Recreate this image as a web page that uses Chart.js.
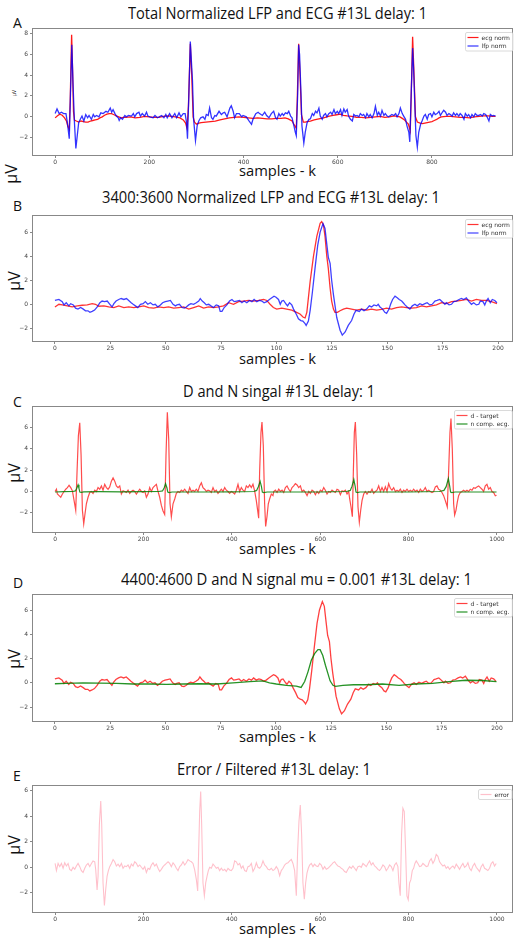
<!DOCTYPE html>
<html>
<head>
<meta charset="utf-8">
<title>Normalized LFP and ECG #13L</title>
<script src="https://cdn.jsdelivr.net/npm/chart.js"></script>
<style>
    body { margin: 0; background: #fff; width: 516px; height: 942px; position: relative; overflow: hidden; font-family: 'Open Sans', sans-serif; color: #111; }
    canvas { position: absolute; left: 0; }
    .txt { position: absolute; white-space: nowrap; line-height: 1; transform-origin: 0 0; }
    .title { font-size: 16px; }
    .xlab { font-size: 14px; }
    .letter { font-size: 14px; left: 13px; }
    .rot { position: absolute; white-space: nowrap; line-height: 1; font-size: 16px; transform: translate(-50%, -50%) rotate(-90deg); }
</style>
</head>
<body>

<div class="txt letter" style="top:16px">A</div>
<div class="txt title fit" data-w="299" style="left:128px; top:5px">Total Normalized LFP and ECG #13L delay: 1</div>
<div class="rot" style="left:14px; top:93px; font-size:5px">µV</div>
<div class="txt xlab fit" data-w="77" style="left:239px; top:163.5px">samples - k</div>
<div class="rot" style="left:11px; top:174px">µV</div>

<div class="txt letter" style="top:199px">B</div>
<div class="txt title fit" data-w="338" style="left:102px; top:188.5px">3400:3600 Normalized LFP and ECG #13L delay: 1</div>
<div class="rot" style="left:14px; top:281px">µV</div>
<div class="txt xlab fit" data-w="77" style="left:239px; top:352px">samples - k</div>

<div class="txt letter" style="top:395px">C</div>
<div class="txt title fit" data-w="192" style="left:183px; top:382.5px">D and N singal #13L delay: 1</div>
<div class="rot" style="left:14px; top:473px">µV</div>
<div class="txt xlab fit" data-w="77" style="left:239px; top:542px">samples - k</div>

<div class="txt letter" style="top:576px">D</div>
<div class="txt title fit" data-w="351" style="left:121px; top:571px">4400:4600 D and N signal mu = 0.001 #13L delay: 1</div>
<div class="rot" style="left:14px; top:659px">µV</div>
<div class="txt xlab fit" data-w="77" style="left:239px; top:730px">samples - k</div>

<div class="txt letter" style="top:769px">E</div>
<div class="txt title fit" data-w="194" style="left:177px; top:761px">Error / Filtered #13L delay: 1</div>
<div class="rot" style="left:14px; top:845px">µV</div>
<div class="txt xlab fit" data-w="77" style="left:239px; top:922px">samples - k</div>

<canvas id="chartA"></canvas>
<canvas id="chartB"></canvas>
<canvas id="chartC"></canvas>
<canvas id="chartD"></canvas>
<canvas id="chartE"></canvas>

<script>

// A - whole record
const ecgFull = [[0,-0.1],[5,0.1],[10,0.25],[15,0.15],[20,-0.1],[24,-0.4],[27,-0.9],[30,-1.2],[32,1.5],[35,7.85],[37,4.5],[39,0.5],[41,-0.3],[45,-0.4],[50,-0.5],[55,-0.4],[60,-0.45],[65,-0.5],[70,-0.5],[75,-0.4],[80,-0.35],[85,-0.3],[90,-0.25],[95,-0.1],[100,0.0],[105,0.15],[110,0.25],[115,0.3],[120,0.3],[125,0.2],[130,0.1],[135,0.0],[140,-0.1],[145,-0.05],[150,-0.05],[160,0.0],[170,-0.1],[180,-0.05],[190,0.05],[200,0.0],[210,-0.05],[220,-0.05],[230,0.05],[240,0.1],[248,0.05],[255,0.0],[265,-0.1],[272,-0.3],[277,-0.6],[280,-1.1],[283,1.0],[287,7.0],[290,4.0],[293,0.0],[296,-0.5],[300,-0.7],[305,-0.6],[310,-0.55],[320,-0.5],[330,-0.45],[340,-0.4],[350,-0.3],[360,-0.2],[370,-0.1],[380,-0.05],[390,0.0],[400,-0.05],[410,-0.1],[420,-0.15],[430,-0.1],[440,-0.15],[450,-0.2],[460,-0.2],[470,-0.15],[480,-0.15],[488,-0.1],[495,-0.2],[503,-0.4],[508,-0.8],[512,-1.1],[514,1.5],[517,6.98],[520,4.0],[523,0.2],[527,-0.5],[531,-0.5],[535,-0.45],[542,-0.4],[550,-0.3],[560,-0.2],[570,-0.1],[580,0.05],[590,0.15],[598,0.2],[605,0.25],[612,0.15],[620,0.1],[630,0.05],[640,-0.05],[650,-0.05],[660,-0.1],[670,-0.05],[680,0.0],[690,0.05],[700,-0.05],[710,0.0],[720,0.1],[726,0.05],[732,0.0],[737,-0.15],[742,-0.3],[746,-0.5],[750,-0.7],[754,-1.35],[756,2.0],[759,7.66],[762,4.0],[765,0.0],[769,-0.5],[775,-0.6],[780,-0.65],[785,-0.6],[790,-0.55],[795,-0.5],[800,-0.45],[805,-0.35],[810,-0.25],[815,-0.1],[820,0.0],[830,0.05],[840,0.05],[850,0.0],[860,-0.05],[870,-0.05],[880,-0.1],[890,0.0],[900,0.05],[910,0.1],[920,0.1],[928,0.05],[935,0.05]];
const lfpFull = [[0,0.31],[4,0.75],[8.5,0.31],[13.5,0.44],[18,0.31],[23,0.31],[26,-0.55],[30,-2.1],[32.6,2.24],[35.4,6.89],[38,3.17],[41,-0.55],[44,-3.03],[47,-1.79],[50,-0.55],[54,-0.18],[57,0.07],[61,-0.4],[65,0.22],[69,-0.09],[72,0.13],[77,-0.24],[81,0.22],[84,0],[88,0.13],[93,0],[97,0.38],[102,0.31],[108,0.53],[112,0.44],[117,0.84],[120,0.44],[123,0.69],[127,0.31],[130,0.07],[134,-0.09],[136,-0.34],[139,-0.09],[143,-0.24],[148,0.13],[151,0],[156,0.13],[162,0.07],[166,0.31],[169,0],[173,0.31],[178,0.44],[181,0.07],[185,0.31],[190,0.07],[194,0.44],[197,0.07],[201,0],[208,-0.09],[212,0.13],[217,-0.09],[221,0],[226,0.13],[231,-0.09],[235,0.22],[238,-0.09],[243,0.31],[248,-0.09],[254,0.31],[258,-0.09],[263,0.38],[267,0],[272,0.31],[276,0.31],[279,-0.55],[281,-2.1],[284,2.24],[287,7.2],[291.6,3.48],[294,-0.24],[298,-2.26],[301.5,-0.86],[305,-0.4],[309,-0.09],[314,0],[318,-0.24],[321,0.22],[325,0.13],[328,0.84],[332,-0.09],[335,-0.24],[339,0.13],[342,0.07],[348,0.53],[353,0.22],[357,0.38],[360,0.44],[365,0],[371,0.84],[374,1.06],[378,0.53],[381,-0.09],[385,0.31],[391,0.31],[396,0],[399,0.13],[406,0],[412,-0.4],[417,-0.71],[420,-0.24],[426,0.31],[431,0.44],[434,0.31],[440,0.13],[445,0.44],[449,0.13],[454,-0.09],[459,0.31],[464,0.53],[468,-0.09],[471,-0.24],[475,0.31],[478,0.07],[482,0.31],[485,0.13],[489,0.38],[493,0.31],[496,0.53],[500,0.07],[503,-0.09],[507,-0.86],[510,-1.48],[512,-1.79],[515,2.24],[517,6.89],[519,5.96],[522,2.24],[524,-0.86],[528,-2.5],[531,-1.48],[535,-0.55],[539,-0.24],[542,-0.18],[546,0.31],[549,0.13],[553,0.53],[556,0.38],[560,0.84],[563,0.07],[567,-0.24],[570,0.13],[574,0.31],[577,0],[581,0.31],[585,0.44],[588,0.22],[592,0.69],[595,0.31],[599,0.53],[602,0.31],[606,0.69],[609,0.13],[613,0.75],[616,0.44],[620,0.69],[623,0.07],[627,-0.24],[631,-0.4],[634,0.22],[638,0.07],[641,0.13],[645,0],[648,0.31],[652,0.13],[655,0.22],[659,-0.09],[662,0.31],[666,0],[669,0.22],[673,-0.09],[677,0.31],[680,1.0],[684,0.13],[687,0.44],[691,0.07],[694,0.62],[698,0.13],[701,0.31],[705,0.07],[708,0],[712,0.13],[715,0.22],[719,0.13],[723,0.31],[726,0],[730,0.31],[733,0.84],[737,0.31],[740,0.07],[744,-0.24],[747,-0.86],[751,-1.48],[753,-2.4],[756,2.24],[759,6.57],[761,4.7],[764,0.69],[766,-1.79],[769,-2.9],[772,-1.48],[776,-0.71],[779,-0.4],[783,0.07],[786,0.22],[790,-0.24],[793,0.22],[797,0.31],[800,0],[804,0.44],[807,0.22],[811,0.31],[815,0.53],[818,0.13],[822,0.44],[825,0.62],[829,0.44],[832,0.13],[836,0.31],[839,0.22],[843,0.07],[846,0.38],[850,0.13],[853,0.31],[857,0.07],[860,0.31],[864,0.13],[868,-0.24],[871,0.31],[875,0.07],[878,0.22],[882,-0.09],[885,0.22],[889,0],[892,0.31],[896,0.13],[899,0.13],[903,0.22],[907,0.07],[910,0.31],[914,0.22],[917,0],[921,-0.4],[924,0.22],[928,0.07],[931,0.13],[935,0.07]];

// B - 200 sample window (the same lfp trace is the d - target in D)
const ecgZoom = [[0,-0.22],[1.8,0],[3.3,-0.05],[5.6,-0.13],[7.8,-0.22],[10.1,-0.13],[12.3,-0.08],[14.6,-0.05],[16.8,0.05],[18.3,0],[19.8,-0.16],[22.1,-0.13],[24.3,-0.22],[26.6,-0.27],[28.8,-0.13],[31.1,-0.27],[33.3,-0.22],[35.6,-0.27],[37.8,-0.22],[40.1,-0.13],[42.3,-0.27],[44.6,-0.32],[46.8,-0.22],[49.1,-0.27],[51.3,-0.22],[53.6,-0.32],[55.9,-0.27],[58.1,-0.22],[60.4,-0.4],[62.6,-0.27],[64.9,-0.13],[67.1,-0.32],[69.4,-0.22],[71.6,-0.27],[73.9,-0.22],[76.1,-0.13],[78.4,0.13],[80.6,0],[82.9,0.22],[85.1,0.27],[87.4,0.32],[89.6,0.27],[91.9,0.32],[94.2,0.4],[95.6,0.32],[97.1,0],[98.6,-0.27],[100.1,-0.4],[102.4,-0.32],[104.6,-0.4],[106.9,-0.48],[109.1,-0.67],[110.6,-0.81],[112.1,-1.08],[112.9,-1.13],[113.7,-0.67],[115.2,1.9],[116.7,4.0],[118.2,5.65],[119.7,6.73],[120.4,6.87],[121.2,6.6],[121.9,5.65],[122.7,4.0],[123.4,2.96],[124.2,1.35],[124.9,0.27],[125.7,-0.4],[126.4,-0.67],[127.5,-0.67],[128.7,-0.54],[130.2,-0.4],[131.7,-0.32],[133.9,-0.4],[136.1,-0.48],[138.4,-0.4],[140.7,-0.48],[142.9,-0.4],[145.2,-0.48],[147.4,-0.43],[149.7,-0.32],[151.9,-0.4],[154.2,-0.27],[156.5,-0.22],[158.7,-0.27],[161,-0.32],[163.2,-0.27],[165.5,-0.13],[167.7,-0.22],[170,-0.13],[172.2,-0.05],[174.5,0.13],[176.7,0.05],[179,0.22],[181.2,0.27],[183.5,0.32],[185.7,0.4],[188,0.27],[190.2,0.4],[192.5,0.32],[194.7,0.32],[197,0.22],[199.5,0.05]];
const lfpZoom = [[0,0.32],[1.8,0.4],[3.3,0.22],[4.1,-0.05],[5.1,0.13],[6.3,-0.13],[7.1,0.05],[8.3,-0.05],[9.3,-0.32],[10.4,-0.4],[11.6,-0.27],[12.8,-0.4],[13.8,-0.54],[14.9,-0.54],[15.8,-0.67],[16.8,-0.59],[17.9,-0.48],[19.1,-0.22],[20.3,0.13],[21.3,0.27],[22.4,0.22],[23.6,0.27],[24.8,0],[25.8,-0.22],[26.6,0.05],[27.6,0.27],[28.8,0.4],[29.9,0.48],[31.1,0.4],[32.3,0.48],[33.3,0.32],[34.4,0.13],[35.3,0],[36.3,-0.13],[37.4,-0.27],[38.6,0],[39.8,0.05],[40.8,0.22],[41.9,0],[43.1,0.13],[44.3,-0.05],[45.3,0],[46.4,-0.22],[47.6,-0.05],[48.6,0.13],[49.8,0.22],[50.9,0.27],[52.1,0.32],[53.3,0],[54.4,-0.13],[55.1,-0.05],[56.2,0],[57.4,-0.27],[58.4,-0.32],[59.3,-0.22],[60.4,-0.05],[61.4,0.05],[62.6,0],[63.8,0.13],[64.9,0.27],[65.6,0.48],[66.5,0.27],[67.4,0.13],[68.3,-0.05],[69.4,0],[70.4,-0.13],[71.6,-0.27],[72.8,-0.05],[73.9,-0.13],[74.6,-0.59],[75.4,-0.59],[76.4,-0.27],[77.6,-0.05],[78.8,0.27],[79.9,0.4],[80.9,0.22],[82.1,0.27],[83.3,0.32],[84.4,0.13],[85.4,0.27],[86.6,0.13],[87.8,0.32],[88.9,0.22],[89.9,0.4],[91.1,0.22],[92.3,0.32],[93.4,0.27],[94.4,0.13],[95.6,0.22],[96.8,0.4],[97.9,0.54],[98.9,0.67],[99.8,0.59],[100.9,0.4],[101.7,0],[102.4,0.27],[103.2,0.32],[104.4,0],[105,-0.13],[105.9,0.13],[106.9,-0.05],[107.7,-0.4],[108.9,-0.81],[109.9,-1.21],[111,-1.35],[111.9,-1.4],[112.9,-1.6],[113.4,-1.75],[114.4,-1.4],[115.2,-0.5],[116.2,1.0],[117.4,3.0],[118.6,4.9],[119.7,6.0],[121,6.7],[121.9,6.3],[122.7,5.0],[123.4,3.9],[124.2,3.4],[124.9,2.0],[125.7,0.8],[127.2,-1.1],[128.7,-2.15],[129.7,-2.56],[131,-2.3],[132.4,-1.75],[133.9,-1.35],[135,-0.8],[135.9,-0.5],[137.4,-0.59],[138.4,-0.4],[139.5,-0.54],[140.7,-0.4],[141.9,-0.13],[142.9,-0.22],[144,-0.05],[145.2,-0.13],[145.9,0],[146.7,-0.22],[147.9,-0.4],[148.9,-0.67],[149.7,-0.75],[150.8,-0.4],[151.5,0],[152.4,0.4],[153.5,0.67],[154.5,0.54],[155.4,0.4],[156.5,0.27],[157.2,0.13],[158,-0.05],[159,-0.22],[160.2,-0.4],[161.3,-0.13],[162.5,0],[163.5,-0.13],[164.7,0.05],[165.9,-0.05],[167,0.05],[168,0.13],[169.2,-0.05],[170.3,0],[171.5,0.27],[172.5,0.32],[173.7,0.4],[174.8,0.22],[176,0],[176.7,0.13],[177.9,-0.05],[179,0],[180,0.22],[181.2,0.27],[182.4,0.4],[183.5,0.48],[184.5,0.4],[185.7,0.54],[186.9,0.22],[188,0],[189,0.13],[190.2,-0.05],[191.3,0],[192,0.27],[193.2,0.22],[194,-0.05],[194.7,0.27],[195.5,0.48],[196.5,0.13],[197.4,0.4],[198.5,0.32],[199.5,0.13]];

// C - d target and n comp. ecg over 1000 samples
const dTarget = [[0,0],[3,0.21],[5.2,-0.24],[9,-0.39],[12.8,-0.54],[16.6,-0.24],[20.3,0],[24.1,0.21],[27.9,0.36],[31.6,0.58],[35.4,0.36],[39.2,0.06],[43,-0.85],[46.7,-1.76],[49.7,1.88],[52.7,5.21],[55.8,6.43],[58.8,3.4],[61.8,-1.76],[64.8,-3.03],[67.8,-2.06],[70.8,-1.15],[74.6,-0.54],[78.4,-0.09],[82.1,0],[85.9,-0.18],[89.7,0.12],[93.5,0],[97.2,0.36],[101,0.21],[104.8,0.52],[108.5,0.12],[112.3,0.67],[116.1,0.36],[119.9,0.21],[123.6,0.43],[127.4,0.97],[131.2,1.27],[135,0.97],[138.7,0.52],[142.5,0.36],[146.3,0.52],[150,-0.24],[153.8,0.06],[157.6,0],[161.3,-0.09],[165.1,0.12],[168.9,-0.18],[172.6,0],[176.4,0.12],[180.2,0],[184,-0.24],[187.7,0],[191.5,0.21],[195.3,0],[199,-0.09],[202.8,0.06],[206.6,-0.54],[210.3,-0.24],[214.1,0.36],[217.9,0],[221.6,0.36],[225.4,0.52],[229.2,0.67],[233,0],[236.7,-0.54],[240.5,-1.3],[244.3,-1.82],[248,-2.15],[251,3.4],[254,7.4],[257.1,4.91],[260.1,-1.15],[263.1,-2.36],[266.9,-1.15],[270.7,-0.7],[274.4,-0.18],[278.2,0],[282,-0.09],[285.7,0.12],[289.5,0],[293.3,0.21],[297,0],[300.8,-0.18],[304.6,0.36],[308.4,0],[312.1,0.12],[315.9,0],[319.7,0.21],[323.4,0],[327.2,0.52],[331,0.82],[334.7,0.36],[338.5,0.21],[342.3,0],[346.1,0.12],[349.8,0.06],[353.6,-0.09],[357.4,0.36],[361.1,0],[364.9,0.12],[368.7,-0.18],[372.4,0],[376.2,0.21],[380,0],[383.8,0.36],[387.5,0.12],[391.3,0],[395.1,-0.18],[398.8,0],[402.6,-0.09],[406.4,-0.24],[410.1,0.12],[413.9,0.67],[417.7,0],[421.5,0.36],[425.2,0.12],[429,0],[432.8,0.52],[436.5,0.36],[440.3,0.61],[444.1,0.36],[447.8,0.67],[451.6,0.06],[455.4,-0.85],[458.4,-1.76],[460.7,-2.5],[462.9,1.88],[465.9,5.52],[468.2,6.49],[471.2,4.3],[474.2,-1.15],[476.5,-3.27],[479.5,-2.36],[482.5,-1.15],[485.5,-0.7],[489.3,-0.24],[493.1,-0.39],[494.8,0],[498.5,0.12],[502.3,-0.09],[506.1,0.21],[509.9,0],[513.6,0.12],[517.4,-0.09],[521.2,0.36],[524.9,0.52],[528.7,0.21],[532.5,0],[536.2,0.36],[540,0.52],[543.8,0.73],[547.6,0.61],[551.3,0.36],[555.1,0.52],[558.9,0],[562.6,0.12],[566.4,-0.09],[570.2,-0.39],[574,0],[577.7,-0.18],[581.5,0.12],[585.3,0],[589,-0.3],[592.8,0],[596.6,-0.18],[600.3,0.12],[604.1,0],[607.9,0.36],[611.6,0.12],[615.4,-0.24],[619.2,0],[623,-0.09],[626.7,0.12],[630.5,0],[634.3,-0.09],[638,0.21],[641.8,0.12],[645.6,-0.3],[649.3,0.06],[653.1,0],[656.9,0.12],[660.7,-0.24],[664.4,0],[666.7,-0.7],[669.7,-1.45],[672.7,-2.36],[675,1.88],[677.2,5.52],[679.5,6.49],[682.5,3.4],[685.5,-1.45],[688.5,-2.88],[691.6,-1.76],[694.6,-0.85],[698.4,-0.24],[702.1,0],[705.9,-0.24],[709.7,0],[713.4,-0.09],[717.2,0.21],[721,-0.18],[724.7,0],[728.5,0.12],[732.3,0.52],[736.1,0],[739.8,0.36],[743.6,0],[747.4,0.43],[751.1,0],[754.9,0.73],[758.7,0.3],[762.4,0.12],[766.2,0.36],[770,0],[773.8,0.12],[777.5,0],[781.3,0.21],[785.1,-0.09],[788.8,0.12],[792.6,0],[796.4,0.21],[800.1,0],[803.9,0.12],[807.7,0],[811.4,0.21],[815.2,0],[819,0.12],[822.8,-0.09],[826.5,0.21],[830.3,0],[834.1,0.12],[837.8,0.36],[841.6,0],[845.4,0.12],[849.2,0],[852.9,-0.09],[856.7,0],[860.5,0.43],[864.2,0.52],[868,0.21],[871.8,0.12],[875.5,-0.09],[879.3,-0.39],[883.1,-0.85],[887.6,-1.45],[890.6,1.88],[893.6,5.52],[895.9,6.82],[898.9,4.0],[901.9,-1.15],[904.2,-2.2],[907.2,-1.76],[910.2,-1.0],[913.2,-0.39],[917,-0.09],[920.8,0],[924.5,0.12],[928.3,0],[932.1,0.12],[935.9,0],[939.6,0.21],[943.4,0.12],[947.2,0.36],[950.9,0.3],[954.7,0.43],[958.5,0.52],[962.3,0.36],[966,0.21],[969.8,0],[973.6,0.52],[977.3,0.67],[981.1,0.21],[984.9,0.36],[988.6,0],[992.4,-0.09],[996.2,-0.4],[999,-0.35]];
const nComp = [[0,-0.05],[20,-0.02],[40,0],[46,0.05],[49,0.3],[52,0.62],[54,0.3],[56,-0.05],[59,-0.08],[65,-0.03],[100,-0.02],[150,-0.03],[200,-0.02],[235,0],[243,0.05],[247,0.35],[250,0.73],[253,0.35],[255,-0.05],[258,-0.1],[265,-0.05],[300,-0.05],[350,-0.05],[400,-0.03],[450,0],[456,0.1],[460,0.45],[464,0.95],[467,0.45],[469,-0.05],[472,-0.1],[480,-0.05],[550,-0.05],[600,-0.05],[660,0],[668,0.1],[672,0.5],[676,1.12],[679,0.5],[681,-0.05],[684,-0.1],[690,-0.05],[750,-0.05],[800,-0.05],[870,0],[880,0.1],[885,0.45],[890,1.21],[893,0.5],[895,-0.05],[898,-0.1],[905,-0.05],[999,-0.05]];

// D - n comp. ecg in the 200 sample window
const nCompZoom = [[0,-0.08],[5,-0.05],[12.8,0],[20.3,-0.03],[27.9,-0.05],[35.4,-0.1],[43,-0.1],[50.5,-0.13],[58,-0.1],[65.5,-0.08],[73,-0.1],[80.6,0],[88.1,0.1],[94.1,0.16],[97.1,0],[100.2,-0.1],[104.7,-0.21],[109.2,-0.27],[111.4,-0.38],[113,0.1],[114.5,0.9],[116,1.85],[117.5,2.4],[119,2.73],[120,2.73],[121.2,2.25],[122.4,1.45],[123.5,0.78],[124.5,0.16],[125.8,-0.21],[127,-0.3],[130.3,-0.21],[135,-0.16],[140.7,-0.16],[148.2,-0.1],[155.7,-0.21],[163.2,-0.1],[170.8,-0.05],[178.3,0.1],[185.8,0.21],[193.4,0.19],[199.8,0.1]];

// E - error signal
const errorSig = [[0,0.3],[3,-0.26],[6.8,0.3],[10.5,0.05],[14.3,0.3],[18.1,-0.08],[21.8,0.35],[25.6,0.1],[29.4,0.3],[33.1,-0.16],[36.9,-0.26],[40.7,0],[44.5,-0.16],[48.2,0.1],[52,0.3],[55.8,0.05],[59.5,-0.26],[63.3,-0.41],[67.1,-0.08],[70.8,0.18],[74.6,0.3],[78.4,0.05],[82.2,0.3],[85.9,0.5],[89.7,0.43],[92,-0.21],[95,-1.78],[97.2,-0.72],[100.2,3.36],[103.3,5.19],[105.5,3.36],[108.5,-1.23],[111.6,-3.0],[114.6,-1.73],[117.6,-0.72],[120.6,-0.26],[123.6,0.05],[127.4,0.3],[131.2,0.61],[134.9,0.43],[138.7,0.1],[142.5,0.25],[146.2,0.05],[150,0.3],[153.8,-0.08],[157.6,0.1],[161.3,0.05],[165.1,0.18],[168.9,-0.08],[172.6,0.25],[176.4,0.1],[180.2,0.43],[184,0.3],[187.7,0.05],[191.5,0.18],[195.3,0],[199,-0.16],[202.8,0.05],[206.6,-0.41],[210.3,-0.08],[214.1,-0.16],[217.9,0.18],[221.6,0.35],[225.4,0.1],[229.2,0.25],[233,-0.08],[236.7,-0.33],[240.5,-0.16],[244.3,0.05],[248,0.18],[251.8,0.3],[255.6,0.43],[259.3,0.3],[263.1,0.05],[266.9,0.35],[270.7,0.18],[274.4,-0.08],[278.2,-0.26],[282,0.05],[285.7,0.18],[289.5,0.43],[293.3,0.18],[297,0.35],[300.8,0.61],[304.6,0.5],[308.4,0.43],[312.1,0.3],[315.9,-0.21],[319.7,-0.97],[322.7,-1.86],[324.9,1.32],[327.2,4.37],[329.5,5.95],[331.7,3.36],[334.7,-1.23],[337.8,-2.24],[340.8,-1.23],[343.8,-0.72],[346.8,-0.26],[349.8,0],[353.6,-0.08],[357.4,0.25],[361.1,0.1],[364.9,-0.08],[368.7,0],[372.4,-0.26],[376.2,-0.08],[380,-0.26],[383.8,-0.16],[387.5,-0.33],[391.3,-0.08],[395.1,-0.21],[398.8,-0.26],[402.6,-0.08],[406.4,0.5],[410.1,0.43],[413.9,0.18],[417.7,0.3],[421.5,-0.08],[425.2,0.1],[429,-0.26],[432.8,-0.33],[436.5,0.05],[440.3,0.1],[444.1,0.3],[447.8,-0.33],[451.6,-0.08],[455.4,0.35],[459.2,0],[462.9,-0.08],[466.7,0.1],[470.5,0.5],[474.2,0.18],[478,0.05],[481.8,-0.16],[485.5,-0.21],[489.3,-0.08],[493.1,-0.26],[496.9,-0.16],[500.6,0.05],[504.4,-0.16],[508.2,-0.66],[511.9,-0.26],[515.7,-0.08],[519.5,0.18],[523.2,0.3],[527,0.35],[530.8,0.5],[534.6,0.61],[538.3,0.3],[542.1,-0.26],[545.9,-2.24],[548.9,1.32],[551.9,3.61],[554.9,4.88],[557.9,2.59],[560.9,-1.23],[564,-2.5],[567,-1.23],[570,-0.46],[573,-0.08],[576,0.18],[579.8,0.3],[583.6,0.05],[587.3,0.25],[591.1,0.1],[594.9,0.05],[598.6,0.3],[602.4,0.18],[606.2,-0.16],[610,0.05],[613.7,-0.16],[617.5,-0.08],[621.3,0.05],[625,0.18],[628.8,0.35],[632.6,0.43],[636.3,0.25],[640.1,0.1],[643.9,0.05],[647.7,-0.08],[651.4,-0.16],[655.2,-0.33],[659,-0.41],[662.7,-0.16],[666.5,0.05],[670.3,-0.08],[674,0.1],[677.8,-0.08],[681.6,-0.26],[685.4,0.05],[689.1,0.1],[692.9,0],[696.7,0.3],[700.4,0.18],[704.2,0.05],[708,0.3],[711.7,0.5],[715.5,0.18],[719.3,0.35],[723.1,0.1],[726.8,0],[730.6,-0.16],[734.4,-0.26],[738.1,-0.08],[741.9,0.18],[745.7,0.05],[749.4,-0.26],[753.2,-0.08],[757,0.18],[760.8,0.05],[764.5,-0.26],[768.3,0.18],[772.1,0.35],[775.8,0.05],[778.1,-1.23],[781.1,-2.24],[784.1,2.59],[787.1,4.63],[790.2,4.37],[793.2,1.32],[796.2,-2.24],[799.2,-2.55],[802.2,-1.23],[805.2,-0.97],[808.3,-0.26],[811.3,-0.08],[814.3,0.3],[817.3,0.5],[821.1,0.3],[824.8,0.05],[828.6,0.1],[832.4,0.3],[836.2,0.18],[839.9,0.05],[843.7,0.1],[847.5,0.5],[851.2,0.68],[855,0.3],[858.8,0.55],[862.5,1.01],[866.3,0.86],[870.1,0.43],[873.9,0.25],[877.6,0.1],[881.4,0.18],[885.2,-0.08],[888.9,0.05],[892.7,-0.16],[896.5,0],[900.2,0.1],[904,-0.08],[907.8,0.25],[911.6,0.05],[915.3,-0.16],[919.1,0.1],[922.9,0.3],[926.6,0],[930.4,0.1],[934.2,0.35],[937.9,-0.08],[941.7,-0.26],[945.5,0.1],[949.3,0.3],[953,0],[956.8,-0.16],[960.6,-0.33],[964.3,0.05],[968.1,0.25],[971.9,-0.08],[975.6,-0.16],[979.4,-0.26],[983.2,-0.08],[987,0.3],[990.7,0.43],[994.5,0.1],[998.3,0.3]];

// tick labels
const xTicksA = [0, 200, 400, 600, 800];
const xTicksFull = [0, 200, 400, 600, 800, 1000];
const xTicksZoom = [0, 25, 50, 75, 100, 125, 150, 175, 200];
const yTicksA = [-2, 0, 2, 4, 6, 8];
const yTicks = [-2, 0, 2, 4, 6];

const TICK_FONT = { family: 'DejaVu Sans', size: 6 };
const AXIS_GREY = '#888';

// matplotlib style box round the axes
const frame = {
    id: 'frame',
    afterDatasetsDraw(chart) {
        const { ctx, chartArea: a } = chart;
        ctx.save();
        ctx.strokeStyle = AXIS_GREY;
        ctx.lineWidth = 1;
        ctx.strokeRect(Math.round(a.left) - 0.5, Math.round(a.top) - 0.5,
            Math.round(a.right - a.left) + 1, Math.round(a.bottom - a.top) + 1);
        ctx.restore();
    }
};

// small boxed legend in the upper right corner
const boxLegend = {
    id: 'boxLegend',
    afterDraw(chart) {
        const { ctx, chartArea: a } = chart;
        const items = chart.data.datasets;
        ctx.save();
        ctx.font = '6px "DejaVu Sans"';
        const tw = Math.max(...items.map(d => ctx.measureText(d.label).width));
        const w = 2 + 11 + 3 + tw + 3;
        const h = 10 + (items.length - 1) * 8.5;
        const x0 = Math.round(a.right - w) + 0.5, y0 = Math.round(a.top + 3) + 0.5;
        ctx.fillStyle = 'rgba(255,255,255,0.85)';
        ctx.strokeStyle = '#d0d0d0';
        ctx.lineWidth = 0.8;
        ctx.beginPath();
        ctx.roundRect(x0, y0, w, h, 1.5);
        ctx.fill();
        ctx.stroke();
        items.forEach((d, i) => {
            const yy = y0 + 5 + i * 8.5;
            ctx.strokeStyle = d.borderColor;
            ctx.lineWidth = 1.2;
            ctx.beginPath();
            ctx.moveTo(x0 + 2, yy);
            ctx.lineTo(x0 + 13, yy);
            ctx.stroke();
            ctx.fillStyle = '#333';
            ctx.textBaseline = 'middle';
            ctx.fillText(d.label, x0 + 16, yy + 0.5);
        });
        ctx.restore();
    }
};

const minus = v => (v < 0 ? '\u2212' + Math.abs(v) : String(v));

function makePanel(id, top, bottom, xr, yr, xt, yt, lines) {
    const cv = document.getElementById(id);
    const h = (bottom - top) + 2 + 16;
    cv.width = 516;
    cv.height = h;
    cv.style.top = (top - 2) + 'px';
    new Chart(cv, {
        type: 'line',
        data: {
            datasets: lines.map(l => ({
                label: l.label,
                data: l.data.map(([x, y]) => ({ x, y })),
                borderColor: l.color,
                borderWidth: l.width || 1.3,
                pointRadius: 0,
                tension: 0,
                fill: false,
                order: l.order
            }))
        },
        options: {
            responsive: false,
            animation: false,
            devicePixelRatio: 1,
            layout: { padding: { top: 2, right: 4, left: 0, bottom: 0 } },
            plugins: { legend: { display: false }, tooltip: { enabled: false } },
            scales: {
                x: {
                    type: 'linear', min: xr[0], max: xr[1],
                    afterBuildTicks: s => { s.ticks = xt.map(v => ({ value: v })); },
                    afterFit: s => { s.height = 16; },
                    grid: { drawOnChartArea: false, tickLength: 3, color: AXIS_GREY },
                    border: { display: false },
                    ticks: { font: TICK_FONT, color: '#444', padding: 1, maxRotation: 0, autoSkip: false, callback: minus }
                },
                y: {
                    type: 'linear', min: yr[0], max: yr[1],
                    afterBuildTicks: s => { s.ticks = yt.map(v => ({ value: v })); },
                    afterFit: s => { s.width = 33; },
                    grid: { drawOnChartArea: false, tickLength: 3, color: AXIS_GREY },
                    border: { display: false },
                    ticks: { font: TICK_FONT, color: '#444', padding: 2, autoSkip: false, callback: minus }
                }
            }
        },
        plugins: [frame, boxLegend]
    });
}

makePanel('chartA', 25, 155, [-47, 970], [-3.65, 8.44], xTicksA, yTicksA, [
    { label: 'ecg norm', data: ecgFull, color: 'rgba(255,0,0,0.9)', order: 1 },
    { label: 'lfp norm', data: lfpFull, color: 'rgba(0,0,255,0.8)', order: 0 }
]);
makePanel('chartB', 212, 341, [-9.9, 206.3], [-3.05, 7.37], xTicksZoom, yTicks, [
    { label: 'ecg norm', data: ecgZoom, color: 'rgba(255,0,0,0.8)', order: 1 },
    { label: 'lfp norm', data: lfpZoom, color: 'rgba(0,0,255,0.75)', order: 0 }
]);
makePanel('chartC', 403, 532, [-50, 1034], [-3.79, 7.94], xTicksFull, yTicks, [
    { label: 'd - target', data: dTarget, color: 'rgba(255,0,0,0.7)', order: 1, width: 1.2 },
    { label: 'n comp. ecg.', data: nComp, color: 'rgba(0,128,0,0.85)', order: 0, width: 1.2 }
]);
makePanel('chartD', 591, 721, [-9.9, 206.8], [-3.15, 7.27], xTicksZoom, yTicks, [
    { label: 'd - target', data: lfpZoom, color: 'rgba(255,0,0,0.75)', order: 1 },
    { label: 'n comp. ecg.', data: nCompZoom, color: 'rgba(0,128,0,0.85)', order: 0 }
]);
makePanel('chartE', 782, 912, [-50, 1034], [-3.51, 6.41], xTicksFull, yTicks, [
    { label: 'error', data: errorSig, color: '#ffc0cb', order: 0, width: 1.1 }
]);

// squeeze the Calibri-like captions to the widths seen in the figure
document.querySelectorAll('.fit').forEach(el => {
    const w = el.getBoundingClientRect().width;
    el.style.transform = 'scaleX(' + (parseFloat(el.dataset.w) / w) + ')';
});
</script>
</body>
</html>
